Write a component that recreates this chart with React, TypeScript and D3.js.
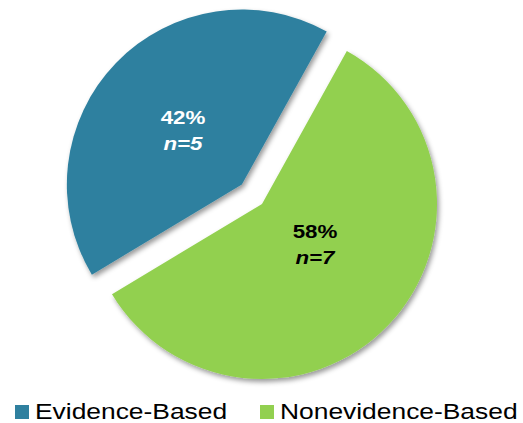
import React from "react";
import * as d3 from "d3";

const categories = ["Evidence-Based", "Nonevidence-Based"];
const counts = [5, 7];
const percentLabels = ["42%", "58%"];
const nLabels = ["n=5", "n=7"];
const colors = ["#2F809F", "#92D050"];
const labelColors = ["#FFFFFF", "#000000"];

const W = 523;
const H = 423;

export default function App() {
  const cx = 262;
  const cy = 204;
  const r = 175;
  const startDeg = 239;
  const pie = d3
    .pie<number>()
    .sort(null)
    .value((d) => d)
    .startAngle((startDeg * Math.PI) / 180)
    .endAngle(((startDeg + 360) * Math.PI) / 180);
  const arcs = pie(counts);
  const arc = d3.arc<d3.PieArcDatum<number>>().innerRadius(0).outerRadius(r);
  const explode = [28, 0];
  const labelPos = [
    [183, 124],
    [315, 238],
  ];
  const sx = 1.2;
  const legendX = [15, 260];

  return (
    <svg
      width={W}
      height={H}
      style={{ position: "absolute", left: 0, top: 0 }}
      fontFamily="Arial, 'Liberation Sans', sans-serif"
    >
      <defs>
        <filter id="shadow" x="-20%" y="-20%" width="140%" height="140%">
          <feDropShadow dx="2" dy="3" stdDeviation="2.5" floodColor="#000" floodOpacity="0.4" />
        </filter>
      </defs>
      <rect width={W} height={H} fill="#fff" />
      {arcs.map((a, i) => {
        const mid = (a.startAngle + a.endAngle) / 2;
        const ox = Math.sin(mid) * explode[i];
        const oy = -Math.cos(mid) * explode[i];
        return (
          <path
            key={categories[i]}
            d={arc(a) || ""}
            transform={`translate(${cx + ox},${cy + oy})`}
            fill={colors[i]}
            filter="url(#shadow)"
          />
        );
      })}
      {arcs.map((a, i) => (
        <g key={"lbl" + i} fill={labelColors[i]} fontWeight="bold" fontSize={18.6} textAnchor="middle">
          <text transform={`translate(${labelPos[i][0]},${labelPos[i][1]}) scale(${sx},1)`}>
            {percentLabels[i]}
          </text>
          <text
            transform={`translate(${labelPos[i][0]},${labelPos[i][1] + 26}) scale(${sx},1)`}
            fontStyle="italic"
          >
            <tspan>{nLabels[i].slice(0, 1)}</tspan>
            <tspan>{nLabels[i].slice(1)}</tspan>
          </text>
        </g>
      ))}
      {categories.map((c, i) => (
        <g key={"leg" + i}>
          <rect x={legendX[i]} y={405} width={14} height={14} fill={colors[i]} />
          <text
            transform={`translate(${legendX[i] + 20},419) scale(${sx},1)`}
            fontSize={22}
            fill="#000"
          >
            {c}
          </text>
        </g>
      ))}
    </svg>
  );
}
